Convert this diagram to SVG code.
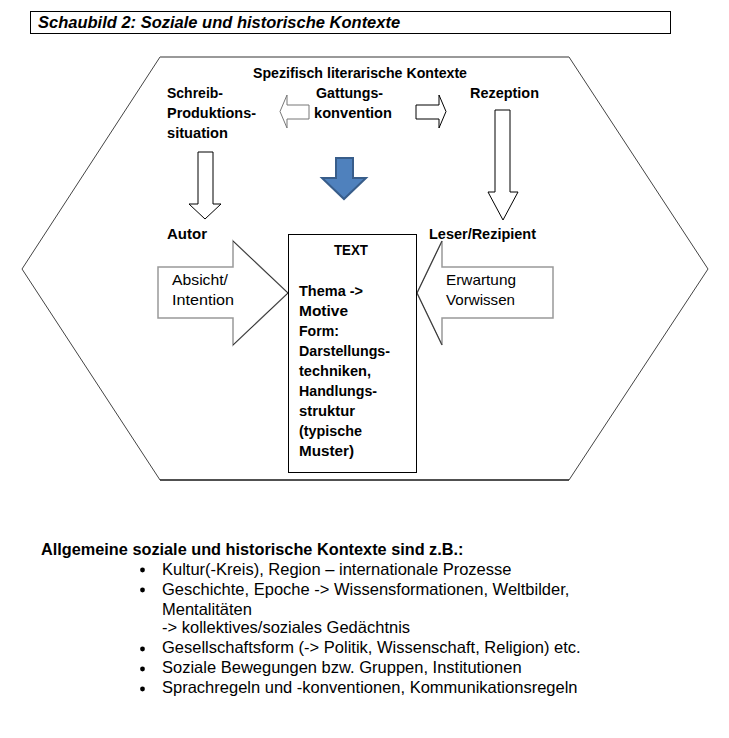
<svg xmlns="http://www.w3.org/2000/svg" width="729" height="738" viewBox="0 0 729 738">
<style>
.c{font-family:"Liberation Sans",Arial,sans-serif;font-size:15px;fill:#000}
.b{font-weight:bold}
.r{font-family:"Liberation Sans",Arial,sans-serif;font-size:16.5px;fill:#000}
.ho{fill:#fff;stroke:#000;stroke-width:1}
.hg{fill:#fff;stroke:#777;stroke-width:1}
.big{fill:#fff;stroke:#999;stroke-width:1.5}
.hl{fill:none;stroke:#333;stroke-width:1}
</style>
<rect width="729" height="738" fill="#fff"/>
<g id="title">
<rect x="30.5" y="11.5" width="640" height="22" fill="#fff" stroke="#000" stroke-width="1"/>
<text x="38" y="28" style="font-family:'Liberation Sans',Arial,sans-serif;font-size:16.5px;font-weight:bold;font-style:italic">Schaubild 2: Soziale und historische Kontexte</text>
</g>
<g id="hexagon">
<polygon points="160,57 569,57 708,269 569,480 160,480 22,269" fill="none" stroke="#444" stroke-width="1"/>
<line x1="160" y1="57" x2="569" y2="57" stroke="#999" stroke-width="2"/>
<line x1="160" y1="480" x2="569" y2="480" stroke="#000" stroke-width="1.2"/>
</g>
<g id="connectors">
<polygon class="hg" points="280,111.5 287,95 287,105 309,105 309,119 287,119 287,128"/>
<polygon class="ho" points="446,111.5 439,95 439,105 416,105 416,119 439,119 439,128"/>
<polygon class="ho" points="198,152 213,152 213,204 221,204 205,219 189,204 198,204"/>
<polygon class="ho" points="495,110 510,110 510,192 518,192 503,220 488,192 495,192"/>
<polygon points="336,158 353,158 353,178 366,178 344,199 322,178 336,178" fill="#4F81BD" stroke="#385D8A" stroke-width="2" stroke-linejoin="miter"/>
<polygon class="big" points="158,267 233,267 233,241 288,293 233,345 233,318 158,318"/>
<polyline class="hl" points="233,241 288,293 233,345"/>
<polygon class="big" points="553,267 442,267 442,241 417,293 442,345 442,318 553,318"/>
<polyline class="hl" points="442,241 417,293 442,345"/>
</g>
<g id="spezifisch">
<text class="c b" x="253" y="78" textLength="214" lengthAdjust="spacingAndGlyphs">Spezifisch literarische Kontexte</text>
</g>
<g id="schreib">
<text class="c b" x="167" y="98" textLength="56" lengthAdjust="spacingAndGlyphs">Schreib-</text>
<text class="c b" x="167" y="118" textLength="89" lengthAdjust="spacingAndGlyphs">Produktions-</text>
<text class="c b" x="167" y="138" textLength="61" lengthAdjust="spacingAndGlyphs">situation</text>
</g>
<g id="gattung">
<text class="c b" x="316" y="98" textLength="67" lengthAdjust="spacingAndGlyphs">Gattungs-</text>
<text class="c b" x="314" y="118" textLength="78" lengthAdjust="spacingAndGlyphs">konvention</text>
</g>
<g id="rezeption">
<text class="c b" x="470" y="98" textLength="69" lengthAdjust="spacingAndGlyphs">Rezeption</text>
</g>
<g id="autor">
<text class="c b" x="167" y="239" textLength="40" lengthAdjust="spacingAndGlyphs">Autor</text>
</g>
<g id="leser">
<text class="c b" x="429" y="239" textLength="107" lengthAdjust="spacingAndGlyphs">Leser/Rezipient</text>
</g>
<g id="absicht">
<text class="c" x="172" y="285" textLength="56" lengthAdjust="spacingAndGlyphs">Absicht/</text>
<text class="c" x="172" y="305" textLength="62" lengthAdjust="spacingAndGlyphs">Intention</text>
</g>
<g id="erwartung">
<text class="c" x="446" y="285" textLength="70" lengthAdjust="spacingAndGlyphs">Erwartung</text>
<text class="c" x="446" y="305" textLength="69" lengthAdjust="spacingAndGlyphs">Vorwissen</text>
</g>
<g id="text-box">
<rect x="288.5" y="234.5" width="128" height="238" fill="#fff" stroke="#000" stroke-width="1"/>
<text class="c b" x="334" y="255" textLength="34" lengthAdjust="spacingAndGlyphs">TEXT</text>
<text class="c b" x="299" y="296" textLength="64" lengthAdjust="spacingAndGlyphs">Thema -&gt;</text>
<text class="c b" x="299" y="316" textLength="49" lengthAdjust="spacingAndGlyphs">Motive</text>
<text class="c b" x="299" y="336" textLength="40" lengthAdjust="spacingAndGlyphs">Form:</text>
<text class="c b" x="299" y="356" textLength="91" lengthAdjust="spacingAndGlyphs">Darstellungs-</text>
<text class="c b" x="299" y="376" textLength="72" lengthAdjust="spacingAndGlyphs">techniken,</text>
<text class="c b" x="299" y="396" textLength="78" lengthAdjust="spacingAndGlyphs">Handlungs-</text>
<text class="c b" x="299" y="416" textLength="56" lengthAdjust="spacingAndGlyphs">struktur</text>
<text class="c b" x="299" y="436" textLength="63" lengthAdjust="spacingAndGlyphs">(typische</text>
<text class="c b" x="299" y="456" textLength="55" lengthAdjust="spacingAndGlyphs">Muster)</text>
</g>
<g id="allgemein">
<text class="r" x="41" y="555" style="font-weight:bold;font-size:16.3px">Allgemeine soziale und historische Kontexte sind z.B.:</text>
<g fill="#000">
<circle cx="142.5" cy="570" r="2.4"/>
<circle cx="142.5" cy="590" r="2.4"/>
<circle cx="142.5" cy="649" r="2.4"/>
<circle cx="142.5" cy="669" r="2.4"/>
<circle cx="142.5" cy="689" r="2.4"/>
</g>
<text class="r" x="162" y="575">Kultur(-Kreis), Region – internationale Prozesse</text>
<text class="r" x="162" y="595">Geschichte, Epoche -&gt; Wissensformationen, Weltbilder,</text>
<text class="r" x="162" y="615">Mentalitäten</text>
<text class="r" x="162" y="633">-&gt; kollektives/soziales Gedächtnis</text>
<text class="r" x="162" y="653">Gesellschaftsform (-&gt; Politik, Wissenschaft, Religion) etc.</text>
<text class="r" x="162" y="673">Soziale Bewegungen bzw. Gruppen, Institutionen</text>
<text class="r" x="162" y="693">Sprachregeln und -konventionen, Kommunikationsregeln</text>
</g>
</svg>
